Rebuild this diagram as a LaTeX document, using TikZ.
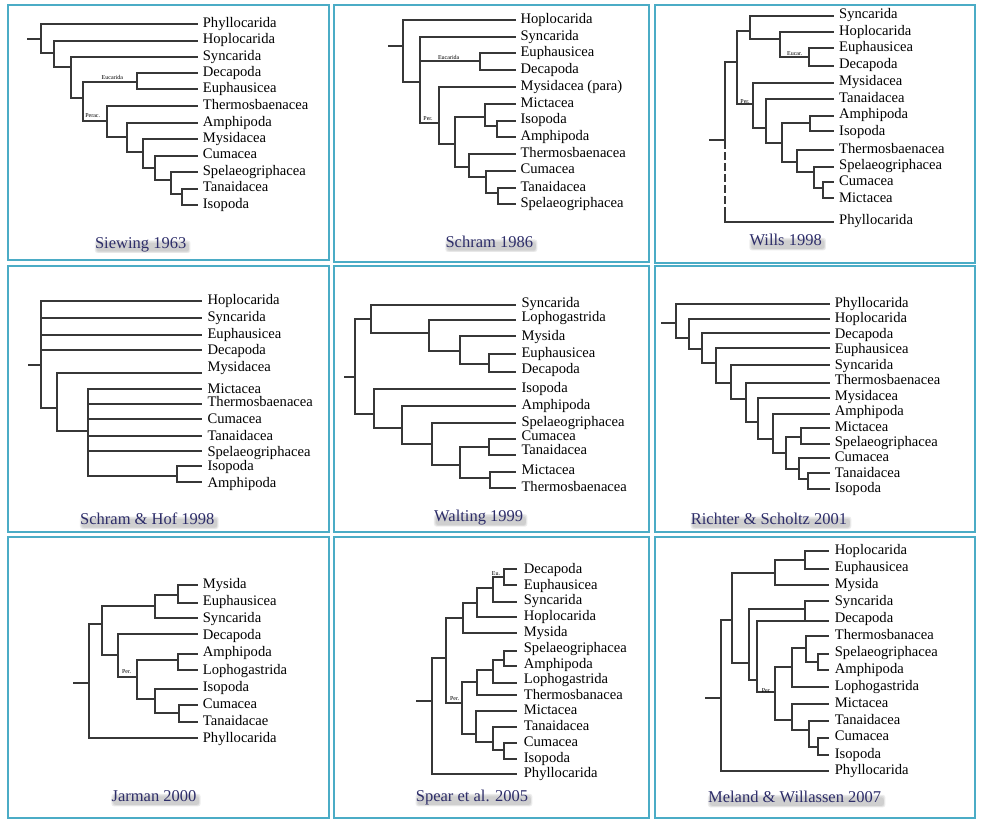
\documentclass[tikz,border=0pt]{standalone}
\usepackage{fontspec}
\setmainfont{Liberation Serif}
\definecolor{framec}{RGB}{75,172,198}
\definecolor{branchc}{RGB}{55,55,55}
\definecolor{ttlc}{RGB}{45,45,105}
\pgfdeclarelayer{bg}
\pgfsetlayers{bg,main}
\newcounter{lfc}
\newcommand\leaffont{\fontsize{14.6pt}{16pt}\selectfont}
\newcommand\tinyfont{\fontsize{6pt}{7pt}\selectfont}
\newcommand\ttlfont{\fontsize{16.5pt}{18pt}\selectfont}
\tikzset{
  br/.style={draw=branchc, line width=1.7pt, line cap=rect},
  lab/.style={anchor=west, inner sep=0pt, text height=0.66em, text depth=0pt, font=\leaffont, text=black},
  tinylab/.style={inner sep=0pt, font=\tinyfont, text=black},
  ttlbox/.style={inner sep=0pt, font=\ttlfont, text=ttlc, text height=0.66em, text depth=0pt},
  shadowband/.style={fill=gray, opacity=0.14, rounded corners=2.5pt},
  panelbox/.style={draw=framec, line width=1.3pt},
  pscope/.style={x=0.33333pt, y=-0.33333pt}
}
\newcommand\vbr[3]{\draw[br] (#1,#2) -- (#1,#3);}
\newcommand\hbr[3]{\draw[br] (#1,#3) -- (#2,#3);}
\newcommand\leafbr[4]{\stepcounter{lfc}\draw[br] (#1,#2) -- (\lx,#2);\node[lab] (leaf\arabic{lfc}) at (\tx,#3) {#4};}
\newcommand\ttl[4]{%
  \node[ttlbox] (#1) at (#2,#3) {#4};
  \begin{pgfonlayer}{bg}
    \fill[shadowband] ([shift={(0pt,-4.5pt)}]#1.south west) rectangle ([shift={(4pt,1pt)}]#1.north east);
    \fill[shadowband] ([shift={(1pt,-3.8pt)}]#1.south west) rectangle ([shift={(3pt,0pt)}]#1.north east);
    \fill[shadowband] ([shift={(2pt,-3pt)}]#1.south west) rectangle ([shift={(2.5pt,-1.5pt)}]#1.north east);
  \end{pgfonlayer}}
\begin{document}
\begin{tikzpicture}[x=1pt, y=-1pt]
\useasboundingbox (0,0) rectangle (983,822);
\begin{pgfonlayer}{bg}
\fill[white] (0,0) rectangle (983,822);
\end{pgfonlayer}
% panel frames
\draw[panelbox] (8,5) rectangle (329,260);
\draw[panelbox] (334,5) rectangle (649,262);
\draw[panelbox] (655,5) rectangle (975,263);
\draw[panelbox] (8,266) rectangle (329,532);
\draw[panelbox] (334,266) rectangle (649,532);
\draw[panelbox] (655,266) rectangle (975,532);
\draw[panelbox] (8,537) rectangle (329,818);
\draw[panelbox] (334,537) rectangle (649,818);
\draw[panelbox] (655,537) rectangle (975,818);

% ---------- Panel 1: Siewing 1963
\begin{scope}[shift={(10,5)}, pscope]
\def\lx{560}\def\tx{578}
\hbr{55}{93}{102}
\vbr{93}{58}{145}\leafbr{93}{58}{58}{Phyllocarida}\hbr{93}{133}{145}
\vbr{133}{107}{185}\leafbr{133}{107}{107}{Hoplocarida}\hbr{133}{183}{185}
\vbr{183}{156}{280}\leafbr{183}{156}{156}{Syncarida}\hbr{183}{218}{280}
\vbr{218}{230}{348}\hbr{218}{380}{230}\hbr{218}{290}{348}
\vbr{380}{203}{252}\leafbr{380}{203}{205}{Decapoda}\leafbr{380}{252}{254}{Euphausicea}
\node[tinylab] (euc1) at (307,217) {Eucarida};
\node[tinylab] (per1) at (248,331) {Perac.};
\vbr{290}{304}{395}\leafbr{290}{304}{304}{Thermosbaenacea}\hbr{290}{350}{395}
\vbr{350}{354}{440}\leafbr{350}{354}{354}{Amphipoda}\hbr{350}{400}{440}
\vbr{400}{403}{490}\leafbr{400}{403}{403}{Mysidacea}\hbr{400}{435}{490}
\vbr{435}{452}{525}\leafbr{435}{452}{452}{Cumacea}\hbr{435}{483}{525}
\vbr{483}{502}{568}\leafbr{483}{502}{502}{Spelaeogriphacea}\hbr{483}{515}{568}
\vbr{515}{551}{600}\leafbr{515}{551}{551}{Tanaidacea}\leafbr{515}{600}{600}{Isopoda}
\ttl{t1}{392}{720}{Siewing 1963}
\end{scope}

% ---------- Panel 2: Schram 1986
\begin{scope}[shift={(332,5)}, pscope]
\def\lx{548}\def\tx{565}
\hbr{172}{212}{123}
\vbr{212}{45}{230}\leafbr{212}{45}{45}{Hoplocarida}\hbr{212}{265}{230}
\vbr{265}{97}{355}\leafbr{265}{97}{97}{Syncarida}\hbr{265}{445}{168}\hbr{265}{320}{355}
\node[tinylab] (euc2) at (350,156) {Eucarida};
\node[tinylab] (per2) at (288,342) {Per.};
\vbr{445}{145}{195}\leafbr{445}{145}{145}{Euphausicea}\leafbr{445}{195}{195}{Decapoda}
\vbr{320}{247}{418}\leafbr{320}{247}{247}{Mysidacea (para)}\hbr{320}{368}{418}
\vbr{368}{335}{485}\hbr{368}{458}{335}\hbr{368}{412}{485}
\vbr{458}{297}{362}\leafbr{458}{297}{297}{Mictacea}\hbr{458}{495}{362}
\vbr{495}{347}{397}\leafbr{495}{347}{347}{Isopoda}\leafbr{495}{397}{397}{Amphipoda}
\vbr{412}{447}{517}\leafbr{412}{447}{447}{Thermosbaenacea}\hbr{412}{462}{517}
\vbr{462}{497}{565}\leafbr{462}{497}{497}{Cumacea}\hbr{462}{498}{565}
\vbr{498}{549}{598}\leafbr{498}{549}{549}{Tanaidacea}\leafbr{498}{598}{598}{Spelaeogriphacea}
\ttl{t2}{472}{717}{Schram 1986}
\end{scope}

% ---------- Panel 3: Wills 1998
\begin{scope}[shift={(653,5)}, pscope]
\def\lx{540}\def\tx{558}
\hbr{172}{217}{405}
\vbr{217}{172}{410}
\draw[br, dash pattern=on 6pt off 5pt] (217,410) -- (217,625);
\vbr{217}{625}{650}
\hbr{217}{252}{172}\leafbr{217}{650}{650}{Phyllocarida}
\vbr{252}{78}{298}\hbr{252}{292}{78}\hbr{252}{300}{298}
\node[tinylab] (per3) at (276,290) {Per.};
\vbr{292}{32}{102}\leafbr{292}{32}{32}{Syncarida}\hbr{292}{380}{102}
\vbr{380}{82}{155}\leafbr{380}{82}{82}{Hoplocarida}\hbr{380}{468}{155}
\node[tinylab] (euc3) at (425,145) {Eucar.};
\vbr{468}{130}{182}\leafbr{468}{130}{130}{Euphausicea}\leafbr{468}{182}{182}{Decapoda}
\vbr{300}{233}{368}\leafbr{300}{233}{233}{Mysidacea}\hbr{300}{340}{368}
\vbr{340}{283}{415}\leafbr{340}{283}{283}{Tanaidacea}\hbr{340}{388}{415}
\vbr{388}{355}{470}\hbr{388}{472}{355}\hbr{388}{432}{470}
\vbr{472}{332}{378}\leafbr{472}{332}{332}{Amphipoda}\leafbr{472}{378}{382}{Isopoda}
\vbr{432}{435}{500}\leafbr{432}{435}{435}{Thermosbaenacea}\hbr{432}{483}{500}
\vbr{483}{485}{550}\leafbr{483}{485}{485}{Spelaeogriphacea}\hbr{483}{510}{550}
\vbr{510}{532}{578}\leafbr{510}{532}{532}{Cumacea}\leafbr{510}{578}{582}{Mictacea}
\ttl{t3}{398}{712}{Wills 1998}
\end{scope}

% ---------- Panel 4: Schram & Hof 1998
\begin{scope}[shift={(10,266)}, pscope]
\def\lx{572}\def\tx{592}
\hbr{58}{92}{297}
\vbr{92}{105}{425}
\leafbr{92}{105}{105}{Hoplocarida}\leafbr{92}{155}{157}{Syncarida}
\leafbr{92}{206}{208}{Euphausicea}\leafbr{92}{253}{256}{Decapoda}
\hbr{92}{140}{425}
\vbr{140}{322}{495}\leafbr{140}{322}{307}{Mysidacea}\hbr{140}{235}{495}
\vbr{235}{370}{630}
\leafbr{235}{370}{372}{Mictacea}\leafbr{235}{415}{412}{Thermosbaenacea}
\leafbr{235}{460}{463}{Cumacea}\leafbr{235}{510}{515}{Tanaidacea}
\leafbr{235}{555}{563}{Spelaeogriphacea}
\hbr{235}{500}{630}
\vbr{500}{600}{648}\leafbr{500}{600}{605}{Isopoda}\leafbr{500}{648}{655}{Amphipoda}
\ttl{t4}{412}{765}{Schram \& Hof 1998}
\end{scope}

% ---------- Panel 5: Walting 1999
\begin{scope}[shift={(332,266)}, pscope]
\def\lx{550}\def\tx{568}
\hbr{38}{68}{333}
\vbr{68}{158}{445}\hbr{68}{118}{158}\hbr{68}{125}{445}
\vbr{118}{118}{202}\leafbr{118}{118}{115}{Syncarida}\hbr{118}{292}{202}
\vbr{292}{163}{255}\leafbr{292}{163}{157}{Lophogastrida}\hbr{292}{385}{255}
\vbr{385}{210}{295}\leafbr{385}{210}{213}{Mysida}\hbr{385}{472}{295}
\vbr{472}{265}{318}\leafbr{472}{265}{265}{Euphausicea}\leafbr{472}{318}{313}{Decapoda}
\vbr{125}{370}{485}\leafbr{125}{370}{370}{Isopoda}\hbr{125}{210}{485}
\vbr{210}{420}{535}\leafbr{210}{420}{420}{Amphipoda}\hbr{210}{300}{535}
\vbr{300}{472}{597}\leafbr{300}{472}{472}{Spelaeogriphacea}\hbr{300}{385}{597}
\vbr{385}{543}{637}\hbr{385}{472}{543}\hbr{385}{475}{637}
\vbr{472}{520}{567}\leafbr{472}{520}{513}{Cumacea}\leafbr{472}{567}{555}{Tanaidacea}
\vbr{475}{617}{665}\leafbr{475}{617}{615}{Mictacea}\leafbr{475}{665}{668}{Thermosbaenacea}
\ttl{t5}{440}{758}{Walting 1999}
\end{scope}

% ---------- Panel 6: Richter & Scholtz 2001
\begin{scope}[shift={(653,266)}, pscope]
\def\lx{528}\def\tx{545}
\hbr{28}{68}{172}
\vbr{68}{115}{215}\leafbr{68}{115}{115}{Phyllocarida}\hbr{68}{108}{215}
\vbr{108}{158}{250}\leafbr{108}{158}{160}{Hoplocarida}\hbr{108}{148}{250}
\vbr{148}{200}{290}\leafbr{148}{200}{208}{Decapoda}\hbr{148}{190}{290}
\vbr{190}{245}{352}\leafbr{190}{245}{253}{Euphausicea}\hbr{190}{235}{352}
\vbr{235}{298}{398}\leafbr{235}{298}{300}{Syncarida}\hbr{235}{278}{398}
\vbr{278}{350}{468}\leafbr{278}{350}{347}{Thermosbaenacea}\hbr{278}{315}{468}
\vbr{315}{397}{520}\leafbr{315}{397}{395}{Mysidacea}\hbr{315}{360}{520}
\vbr{360}{443}{560}\leafbr{360}{443}{440}{Amphipoda}\hbr{360}{400}{560}
\vbr{400}{512}{608}\hbr{400}{445}{512}\hbr{400}{437}{608}
\vbr{445}{485}{533}\leafbr{445}{485}{488}{Mictacea}\leafbr{445}{533}{533}{Spelaeogriphacea}
\vbr{437}{575}{640}\leafbr{437}{575}{578}{Cumacea}\hbr{437}{465}{640}
\vbr{465}{620}{668}\leafbr{465}{620}{625}{Tanaidacea}\leafbr{465}{668}{670}{Isopoda}
\ttl{t6}{348}{765}{Richter \& Scholtz 2001}
\end{scope}

% ---------- Panel 7: Jarman 2000
\begin{scope}[shift={(10,535)}, pscope]
\def\lx{560}\def\tx{578}
\hbr{192}{238}{445}
\vbr{238}{268}{610}\hbr{238}{275}{268}\leafbr{238}{610}{612}{Phyllocarida}
\vbr{275}{212}{360}\hbr{275}{435}{212}\hbr{275}{325}{360}
\vbr{435}{180}{250}\hbr{435}{505}{180}\leafbr{435}{250}{253}{Syncarida}
\vbr{505}{150}{205}\leafbr{505}{150}{150}{Mysida}\leafbr{505}{205}{202}{Euphausicea}
\vbr{325}{298}{425}\leafbr{325}{298}{303}{Decapoda}\hbr{325}{382}{425}
\node[tinylab] (per7) at (350,411) {Per.};
\vbr{382}{375}{492}\hbr{382}{505}{375}\hbr{382}{435}{492}
\vbr{505}{358}{404}\leafbr{505}{358}{355}{Amphipoda}\leafbr{505}{404}{408}{Lophogastrida}
\vbr{435}{462}{535}\leafbr{435}{462}{460}{Isopoda}\hbr{435}{508}{535}
\vbr{508}{510}{560}\leafbr{508}{510}{510}{Cumacea}\leafbr{508}{560}{562}{Tanaidacae}
\ttl{t7}{432}{790}{Jarman 2000}
\end{scope}

% ---------- Panel 8: Spear et al. 2005
\begin{scope}[shift={(332,535)}, pscope]
\def\lx{553}\def\tx{575}
\hbr{255}{300}{497}
\vbr{300}{368}{717}\hbr{300}{343}{368}\leafbr{300}{717}{717}{Phyllocarida}
\vbr{343}{250}{505}\hbr{343}{392}{250}\hbr{343}{390}{505}
\node[tinylab] (per8) at (368,491) {Per.};
\vbr{392}{203}{295}\hbr{392}{435}{203}\leafbr{392}{295}{295}{Mysida}
\vbr{435}{158}{247}\hbr{435}{483}{158}\leafbr{435}{247}{247}{Hoplocarida}
\vbr{483}{125}{200}\hbr{483}{515}{125}\leafbr{483}{200}{198}{Syncarida}
\node[tinylab] (eu8) at (492,116) {Eu.};
\vbr{515}{103}{150}\leafbr{515}{103}{105}{Decapoda}\leafbr{515}{150}{153}{Euphausicea}
\vbr{390}{440}{597}\hbr{390}{435}{440}\hbr{390}{432}{597}
\vbr{435}{405}{480}\hbr{435}{483}{405}\leafbr{435}{480}{485}{Thermosbanacea}
\vbr{483}{375}{443}\hbr{483}{515}{375}\leafbr{483}{443}{437}{Lophogastrida}
\vbr{515}{348}{393}\leafbr{515}{348}{343}{Spelaeogriphacea}\leafbr{515}{393}{390}{Amphipoda}
\vbr{432}{528}{620}\leafbr{432}{528}{528}{Mictacea}\hbr{432}{483}{620}
\vbr{483}{577}{645}\leafbr{483}{577}{577}{Tanaidacea}\hbr{483}{515}{645}
\vbr{515}{625}{672}\leafbr{515}{625}{625}{Cumacea}\leafbr{515}{672}{672}{Isopoda}
\ttl{t8}{420}{790}{Spear et al. 2005}
\end{scope}

% ---------- Panel 9: Meland & Willassen 2007
\begin{scope}[shift={(653,535)}, pscope]
\def\lx{525}\def\tx{545}
\hbr{158}{203}{490}
\vbr{203}{255}{708}\hbr{203}{238}{255}\leafbr{203}{708}{710}{Phyllocarida}
\vbr{238}{113}{383}\hbr{238}{365}{113}\hbr{238}{288}{383}
\vbr{365}{75}{150}\hbr{365}{455}{75}\leafbr{365}{150}{152}{Mysida}
\vbr{455}{48}{103}\leafbr{455}{48}{48}{Hoplocarida}\leafbr{455}{103}{100}{Euphausicea}
\vbr{288}{222}{435}\hbr{288}{455}{222}\hbr{288}{312}{435}
\vbr{455}{197}{258}\leafbr{455}{197}{203}{Syncarida}
\vbr{312}{258}{472}\leafbr{312}{258}{253}{Decapoda}\hbr{312}{365}{472}
\node[tinylab] (per9) at (340,467) {Per.};
\vbr{365}{395}{555}\hbr{365}{418}{395}\hbr{365}{418}{555}
\vbr{418}{338}{457}\hbr{418}{460}{338}\leafbr{418}{457}{457}{Lophogastrida}
\vbr{460}{302}{380}\leafbr{460}{302}{303}{Thermosbanacea}\hbr{460}{495}{380}
\vbr{495}{357}{405}\leafbr{495}{357}{355}{Spelaeogriphacea}\leafbr{495}{405}{405}{Amphipoda}
\vbr{418}{507}{585}\leafbr{418}{507}{508}{Mictacea}\hbr{418}{468}{585}
\vbr{468}{558}{635}\leafbr{468}{558}{558}{Tanaidacea}\hbr{468}{495}{635}
\vbr{495}{608}{660}\leafbr{495}{608}{608}{Cumacea}\leafbr{495}{660}{660}{Isopoda}
\ttl{t9}{425}{793}{Meland \& Willassen 2007}
\end{scope}
\end{tikzpicture}
\end{document}
